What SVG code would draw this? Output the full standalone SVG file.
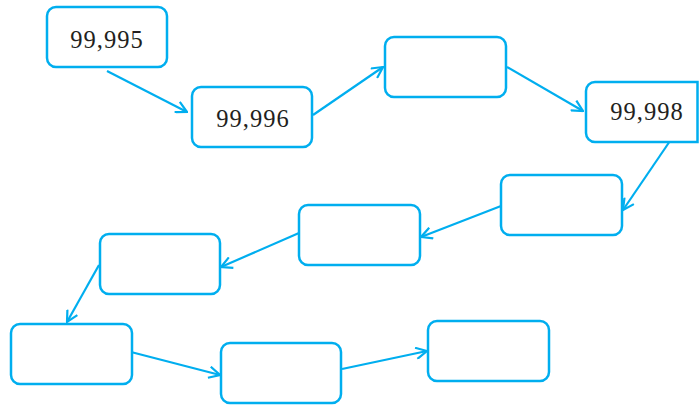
<svg xmlns="http://www.w3.org/2000/svg" width="699" height="405" viewBox="0 0 699 405">
  <defs>
    <style>
      .box { fill: #ffffff; stroke: #00aeef; stroke-width: 2.5; }
      .link { fill: none; stroke: #00aeef; stroke-width: 2.2; }
      .num { font-family: "Liberation Serif", "Times New Roman", serif; font-size: 24.5px; letter-spacing: 1px; fill: #231f20; text-anchor: middle; }
    </style>
    <marker id="head" viewBox="0 0 13 13" refX="12" refY="6.5" markerWidth="13" markerHeight="13" markerUnits="userSpaceOnUse" orient="auto">
      <path d="M1,0.8 L12,6.5 L1,12.2" fill="none" stroke="#00aeef" stroke-width="2.2"/>
    </marker>
  </defs>
  <rect width="699" height="405" fill="#ffffff"/>

  <g id="connectors">
    <line class="link" x1="107" y1="71" x2="187" y2="112" marker-end="url(#head)"/>
    <line class="link" x1="313" y1="115" x2="383" y2="67" marker-end="url(#head)"/>
    <line class="link" x1="507" y1="67" x2="583" y2="111" marker-end="url(#head)"/>
    <line class="link" x1="670" y1="141" x2="623" y2="210" marker-end="url(#head)"/>
    <line class="link" x1="501" y1="206" x2="421" y2="237" marker-end="url(#head)"/>
    <line class="link" x1="299" y1="233" x2="221" y2="267" marker-end="url(#head)"/>
    <line class="link" x1="99" y1="265" x2="67" y2="322" marker-end="url(#head)"/>
    <line class="link" x1="131" y1="352" x2="220" y2="375" marker-end="url(#head)"/>
    <line class="link" x1="342" y1="369" x2="427" y2="351" marker-end="url(#head)"/>
  </g>

  <g id="n1">
    <rect class="box" x="47" y="7" width="120" height="60" rx="9"/>
    <text class="num" x="107" y="48">99,995</text>
  </g>
  <g id="n2">
    <rect class="box" x="192" y="87" width="120" height="60" rx="9"/>
    <text class="num" x="253" y="127">99,996</text>
  </g>
  <g id="n3">
    <rect class="box" x="385" y="37" width="121" height="60" rx="9"/>
  </g>
  <g id="n4">
    <path class="box" d="M697.5,82 H595 A9,9 0 0 0 586,91 V133 A9,9 0 0 0 595,142 H697.5 Z"/>
    <text class="num" x="647" y="120">99,998</text>
  </g>
  <g id="n5">
    <rect class="box" x="501" y="175" width="121" height="60" rx="9"/>
  </g>
  <g id="n6">
    <rect class="box" x="299" y="205" width="121" height="60" rx="9"/>
  </g>
  <g id="n7">
    <rect class="box" x="100" y="234" width="120" height="60" rx="9"/>
  </g>
  <g id="n8">
    <rect class="box" x="11" y="324" width="121" height="60" rx="9"/>
  </g>
  <g id="n9">
    <rect class="box" x="221" y="343" width="120" height="60" rx="9"/>
  </g>
  <g id="n10">
    <rect class="box" x="428" y="321" width="121" height="60" rx="9"/>
  </g>
</svg>
